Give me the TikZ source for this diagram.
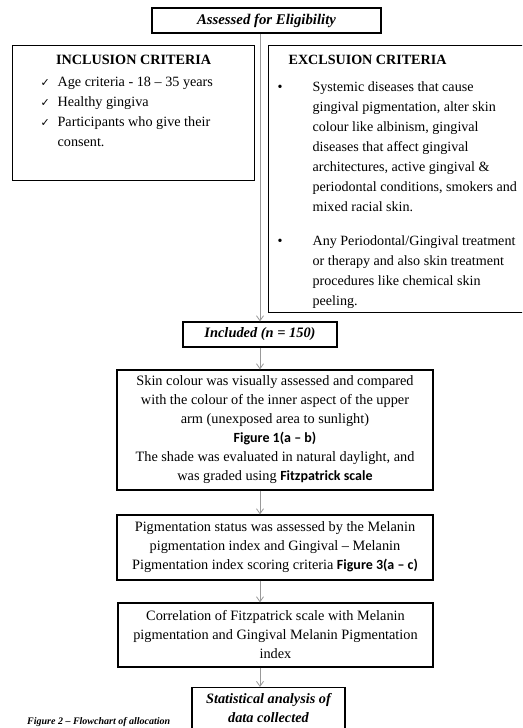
\documentclass[tikz,border=0pt]{standalone}
\usepackage{fontspec}
\setmainfont{Liberation Serif}
\newfontfamily\calib{Carlito}
\newfontfamily\djv{DejaVu Sans}
\usetikzlibrary{arrows.meta}
\begin{document}
\begin{tikzpicture}[x=1pt,y=-1pt,
  box/.style={draw=black, line width=1.2pt, inner sep=0pt, align=center},
  arr/.style={draw=black!40, line width=0.8pt, -{Straight Barb[length=5pt,width=7pt]}},
  bodytext/.style={font=\fontsize{14.3}{19}\selectfont},
]
\clip (0,0) rectangle (522,728);
\coordinate (sp) at (260,0);

\node[box, minimum width=229pt, minimum height=25pt] (elig) at (266.5,20.5)
  {\fontsize{14.8}{16}\selectfont\bfseries\itshape Assessed for Eligibility};

\node[box, anchor=north west] (incl) at (12,45)
  {\parbox[c][135pt][t]{242pt}{\fontsize{14.2}{20}\selectfont
   \vspace*{9pt}%
   \centering\textbf{INCLUSION CRITERIA}\par
   \vspace{2pt}%
   \raggedright\leftskip=28pt
   \makebox[17pt][l]{\djv\fontsize{11}{10}\selectfont ✓}Age criteria - 18 – 35 years\\
   \makebox[17pt][l]{\djv\fontsize{11}{10}\selectfont ✓}Healthy gingiva\\
   \makebox[17pt][l]{\djv\fontsize{11}{10}\selectfont ✓}Participants who give their\\
   \hspace*{17pt}consent.\par}};

\node[box, anchor=north west] (excl) at (268,45)
  {\parbox[c][267pt][t]{290pt}{\fontsize{14.1}{20}\selectfont
   \vspace*{10pt}%
   \raggedright
   \hspace*{20pt}\textbf{EXCLSUION CRITERIA}\par
   \vspace{7pt}%
   \leftskip=44pt
   \noindent\llap{\makebox[35pt][l]{•}}Systemic diseases that cause\\
   gingival pigmentation, alter skin\\
   colour like albinism, gingival\\
   diseases that affect gingival\\
   architectures, active gingival \&\\
   periodontal conditions, smokers and\\
   mixed racial skin.\par
   \vspace{14pt}%
   \noindent\llap{\makebox[35pt][l]{•}}Any Periodontal/Gingival treatment\\
   or therapy and also skin treatment\\
   procedures like chemical skin\\
   peeling.\par}};

\node[box, minimum width=154pt, minimum height=25pt] (inc) at (260,334.5)
  {\fontsize{14.4}{16}\selectfont\bfseries\itshape Included (n = 150)};

\node[box, minimum width=316pt, minimum height=120pt, bodytext] (skin) at (275,430)
  {Skin colour was visually assessed and compared\\
   with the colour of the inner aspect of the upper\\
   arm (unexposed area to sunlight)\\
   {\calib\bfseries\fontsize{14}{19}\selectfont Figure 1(a – b)}\\
   The shade was evaluated in natural daylight, and\\
   was graded using {\calib\bfseries\fontsize{14}{19}\selectfont Fitzpatrick scale}};

\node[box, minimum width=316pt, minimum height=65pt, bodytext] (pig) at (275,547.5)
  {Pigmentation status was assessed by the Melanin\\
   pigmentation index and Gingival – Melanin\\
   Pigmentation index scoring criteria {\calib\bfseries\fontsize{14}{19}\selectfont Figure 3(a – c)}};

\node[box, minimum width=315pt, minimum height=64pt, bodytext] (corr) at (275.5,635)
  {Correlation of Fitzpatrick scale with Melanin\\
   pigmentation and Gingival Melanin Pigmentation\\
   index};

\node[box, anchor=north] (stat) at (268.5,687)
  {\parbox[c][60pt][t]{153pt}{\centering\fontsize{14.3}{19}\selectfont\bfseries\itshape
   \vspace*{6pt}%
   Statistical analysis of\\ data collected\par}};

\node[anchor=west, inner sep=0pt] (cap) at (27,722)
  {\fontsize{10}{11}\selectfont\bfseries\itshape Figure 2 – Flowchart of allocation};

\draw[arr] (elig.south -| sp) -- (inc.north -| sp);
\draw[arr] (inc.south -| sp) -- (skin.north -| sp);
\draw[arr] (skin.south -| sp) -- (pig.north -| sp);
\draw[arr] (pig.south -| sp) -- (corr.north -| sp);
\draw[arr] (corr.south -| sp) -- (stat.north -| sp);
\end{tikzpicture}
\end{document}
